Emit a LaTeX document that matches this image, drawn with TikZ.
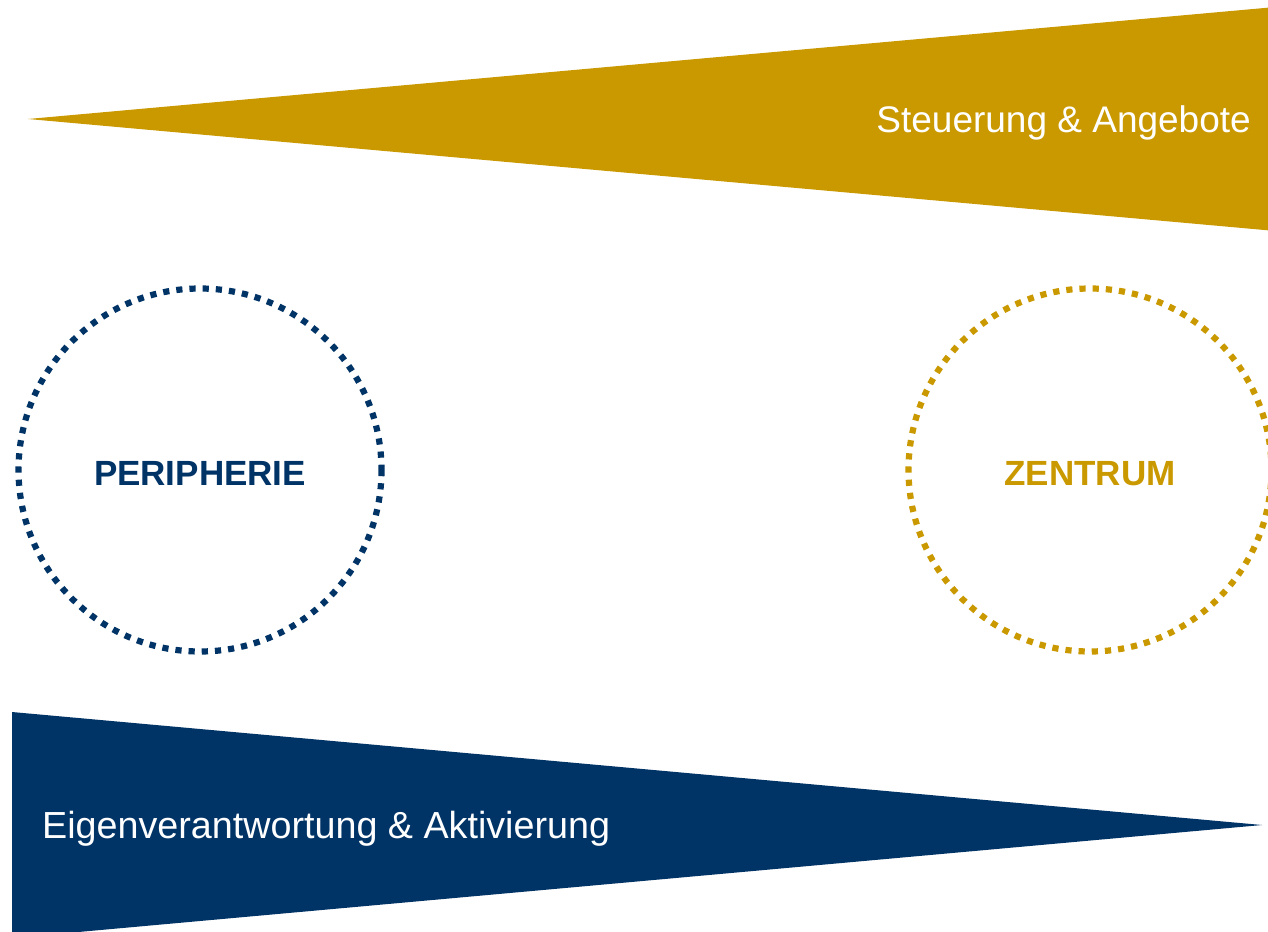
\documentclass[tikz,border=0pt]{standalone}
\usepackage{fontspec}
\setmainfont{Liberation Sans}
\definecolor{gold}{RGB}{202,153,0}
\definecolor{navy}{RGB}{0,51,102}
\begin{document}
\begin{tikzpicture}[x=1pt,y=-1pt,
  wedge/.style={draw=none},
  ring/.style={line width=6.2pt, dash pattern=on 6.2pt off 7pt},
  bandtext/.style={text=white, inner sep=0pt},
  ringtext/.style={font=\fontsize{35}{38}\selectfont\bfseries, inner sep=0pt}]
\useasboundingbox (0,0) rectangle (1268,931);
\clip (0,0) rectangle (1268,931);
\fill[white] (0,0) rectangle (1268,931);
% top wedge
\coordinate (tA) at (28,119);
\coordinate (tB) at (1280,6.6);
\coordinate (tC) at (1280,231.4);
\fill[gold, wedge] (tA) -- (tB) -- (tC) -- cycle;
\node[bandtext, font=\fontsize{37}{40}\selectfont, anchor=base east] (toptext) at (1251,132) {Steuerung \& Angebote};
% bottom wedge
\coordinate (bA) at (1262,825);
\coordinate (bB) at (12,712);
\coordinate (bC) at (12,938);
\fill[navy, wedge] (bA) -- (bB) -- (bC) -- cycle;
\node[bandtext, font=\fontsize{37.7}{41}\selectfont, anchor=base west] (bottext) at (42,838) {Eigenverantwortung \& Aktivierung};
% circles
\coordinate (cL) at (200,470);
\coordinate (cR) at (1090,470);
\draw[ring, navy] (cL) circle[radius=181.5];
\draw[ring, gold] (cR) circle[radius=181.5];
\node[ringtext, text=navy, anchor=base] (peri) at (200,485) {PERIPHERIE};
\node[ringtext, text=gold, anchor=base] (zent) at (1090,485) {ZENTRUM};
\end{tikzpicture}
\end{document}
